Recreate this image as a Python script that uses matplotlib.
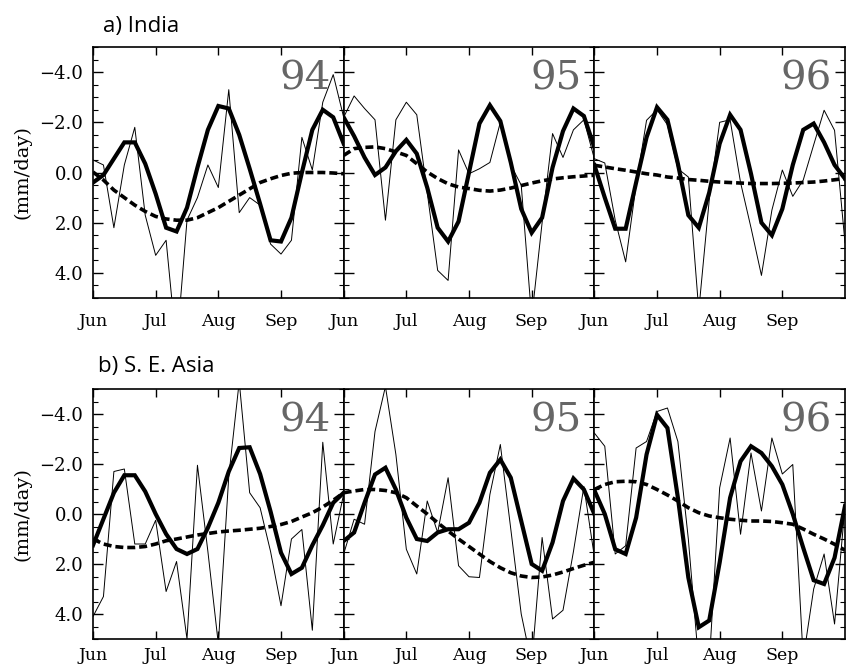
import numpy as np
import matplotlib
matplotlib.use("Agg")
import matplotlib.pyplot as plt
from matplotlib.ticker import FixedLocator, MultipleLocator

# pentads from 1 Jun (25 points per summer)
pentad = np.arange(25)
month_ticks = [0, 6, 12, 18]
month_labels = ['Jun', 'Jul', 'Aug', 'Sep']
ytick_vals = [-4, -2, 0, 2, 4]
ytick_labels = ['\u22124.0', '\u22122.0', '0.0', '2.0', '4.0']
years = ['94', '95', '96']

# a) India : raw anomaly (thin), filtered (thick), seasonal cycle (dashed)
india_raw_94 = [-0.5, -0.3, 2.2, -0.3, -1.8, 1.7, 3.3, 2.7, 7.0, 1.9, 1.0, -0.3, 0.6,
                -3.3, 1.6, 1.0, 1.3, 2.85, 3.25, 2.7, -1.4, -0.1, -2.8, -3.9, -2.2]
india_filt_94 = [0.4, 0.1, -0.55, -1.2, -1.2, -0.35, 0.85, 2.2, 2.35, 1.4, -0.2, -1.7, -2.65,
                 -2.55, -1.5, -0.15, 1.25, 2.7, 2.75, 1.8, 0.0, -1.7, -2.5, -2.2, -1.15]
india_clim_94 = [-0.02, 0.3, 0.7, 1.0, 1.3, 1.55, 1.75, 1.85, 1.9, 1.9, 1.8, 1.6, 1.4,
                 1.15, 0.9, 0.65, 0.4, 0.25, 0.12, 0.03, 0.0, 0.0, 0.0, 0.02, 0.05]

india_raw_95 = [-2.2, -3.05, -2.55, -2.1, 1.9, -2.1, -2.8, -2.3, 0.8, 3.9, 4.3, -0.9, 0.05,
                -0.15, -0.4, -2.0, -0.3, 0.5, 5.8, 2.0, -1.55, -0.6, -1.7, -2.1, -0.55]
india_filt_95 = [-2.2, -1.45, -0.6, 0.1, -0.2, -0.85, -1.3, -0.75, 0.6, 2.2, 2.75, 1.95, 0.0,
                 -1.95, -2.68, -2.05, -0.4, 1.45, 2.4, 1.8, -0.2, -1.65, -2.55, -2.25, -1.0]
india_clim_95 = [-0.68, -0.95, -1.0, -1.02, -0.95, -0.82, -0.68, -0.35, -0.02, 0.24, 0.45, 0.58, 0.64,
                 0.71, 0.74, 0.7, 0.62, 0.52, 0.42, 0.33, 0.26, 0.21, 0.17, 0.14, 0.11]

india_raw_96 = [-0.55, -0.38, 1.9, 3.56, 0.5, -2.08, -2.5, -1.9, -0.15, 0.18, 5.5, 1.1, -2.0,
                -2.1, 0.4, 2.2, 4.1, 1.5, -0.1, 0.95, 0.3, -1.1, -2.48, -1.68, 2.8]
india_filt_96 = [-0.3, 1.0, 2.24, 2.24, 0.4, -1.4, -2.6, -2.1, -0.35, 1.7, 2.2, 0.8, -1.15,
                 -2.3, -1.7, 0.05, 2.0, 2.5, 1.45, -0.3, -1.7, -1.95, -1.2, -0.3, 0.25]
india_clim_96 = [-0.29, -0.22, -0.15, -0.09, -0.02, 0.05, 0.1, 0.18, 0.22, 0.28, 0.31, 0.35, 0.38,
                 0.4, 0.42, 0.44, 0.44, 0.44, 0.43, 0.42, 0.4, 0.38, 0.34, 0.29, 0.24]

# b) S. E. Asia
sea_raw_94 = [4.1, 3.3, -1.7, -1.8, 1.2, 1.2, 0.25, 3.1, 1.9, 5.0, -1.95, 1.5, 5.2,
              -1.5, -5.3, -0.85, -0.25, 1.5, 3.67, 1.0, 0.62, 4.65, -2.87, 1.2, -0.8]
sea_filt_94 = [1.25, 0.2, -0.85, -1.55, -1.55, -0.9, 0.0, 0.8, 1.4, 1.6, 1.4, 0.55, -0.45,
               -1.7, -2.64, -2.67, -1.6, -0.1, 1.55, 2.4, 2.15, 1.25, 0.45, -0.45, -0.85]
sea_clim_94 = [1.0, 1.2, 1.3, 1.34, 1.34, 1.3, 1.2, 1.07, 1.0, 0.92, 0.84, 0.78, 0.72,
               0.68, 0.65, 0.61, 0.57, 0.5, 0.42, 0.3, 0.12, -0.05, -0.28, -0.55, -0.85]

sea_raw_95 = [1.6, 0.21, 0.41, -3.3, -5.1, -2.38, 1.41, 2.4, -0.52, 0.74, -1.45, 2.07, 2.51,
              2.54, -0.78, -2.78, 0.6, 4.0, 6.0, 0.94, 4.2, 3.85, 1.5, -1.1, 1.7]
sea_filt_95 = [1.08, 0.74, -0.45, -1.58, -1.85, -0.98, 0.15, 1.0, 1.08, 0.74, 0.61, 0.61, 0.35,
               -0.45, -1.65, -2.18, -1.45, 0.28, 2.0, 2.27, 1.14, -0.52, -1.42, -0.98, 0.0]
sea_clim_95 = [-0.85, -0.92, -0.98, -0.98, -0.94, -0.85, -0.65, -0.32, 0.0, 0.35, 0.68, 1.0, 1.3,
               1.6, 1.9, 2.15, 2.35, 2.48, 2.54, 2.52, 2.44, 2.32, 2.18, 2.05, 1.93]

sea_raw_96 = [-3.24, -2.71, 1.6, 1.27, -2.64, -2.9, -4.1, -4.24, -2.9, 1.0, 6.0, 6.0, -1.05,
              -3.04, 0.81, -2.44, -0.12, -3.04, -1.6, -1.98, 5.8, 3.0, 1.6, 4.4, -0.3]
sea_filt_96 = [-0.95, 0.0, 1.41, 1.6, 0.15, -2.38, -3.97, -3.44, -0.65, 2.54, 4.53, 4.26, 1.94,
               -0.65, -2.11, -2.71, -2.44, -1.91, -1.18, 0.0, 1.35, 2.65, 2.8, 1.75, -0.32]
sea_clim_96 = [-0.98, -1.18, -1.29, -1.31, -1.29, -1.18, -0.98, -0.76, -0.52, -0.25, -0.05, 0.08, 0.15,
               0.21, 0.25, 0.28, 0.28, 0.3, 0.35, 0.41, 0.6, 0.81, 1.0, 1.21, 1.45]

rows = [
    ('a) India', [(india_raw_94, india_filt_94, india_clim_94),
                  (india_raw_95, india_filt_95, india_clim_95),
                  (india_raw_96, india_filt_96, india_clim_96)]),
    ('b) S. E. Asia', [(sea_raw_94, sea_filt_94, sea_clim_94),
                       (sea_raw_95, sea_filt_95, sea_clim_95),
                       (sea_raw_96, sea_filt_96, sea_clim_96)]),
]

serif = 'DejaVu Serif'
W, H = 850, 669
fig = plt.figure(figsize=(W / 100, H / 100), dpi=100)

# pixel layout (top, bottom of each row, left/right of panels)
row_px = [(47, 298), (389, 639)]
title_px = [(103, 32), (98, 372)]
xlab_pad = [11, 6]
left_px, right_px = 93, 845
pw = (right_px - left_px) / 3

for r, (title, panels) in enumerate(rows):
    top, bot = row_px[r]
    for i, (raw, filt, clim) in enumerate(panels):
        ax = fig.add_axes([(left_px + i * pw) / W, 1 - bot / H, pw / W, (bot - top) / H])
        ax.plot(pentad, raw, color='black', lw=0.7)
        ax.plot(pentad, filt, color='black', lw=3.0, solid_joinstyle='miter')
        ax.plot(pentad, clim, color='black', lw=2.6, dashes=[2.2, 1.1])
        ax.set_xlim(0, 24)
        ax.set_ylim(5, -5)

        ax.xaxis.set_major_locator(FixedLocator(month_ticks))
        ax.set_xticklabels(month_labels, fontfamily=serif, fontsize=12.5)
        ax.yaxis.set_major_locator(FixedLocator(ytick_vals))
        ax.yaxis.set_minor_locator(MultipleLocator(0.5))
        if i == 0:
            ax.set_yticklabels(ytick_labels, fontfamily=serif, fontsize=13)
        else:
            ax.set_yticklabels([])
        ax.tick_params(axis='both', which='both', direction='in', top=True, right=True)
        ax.tick_params(axis='x', which='major', length=5.5, width=1.0, pad=xlab_pad[r])
        ax.tick_params(axis='y', which='major', length=7, width=1.0, pad=7)
        ax.tick_params(axis='y', which='minor', length=3.5, width=0.8)
        for sp in ax.spines.values():
            sp.set_linewidth(1.2)

        ax.text(1 - 13 / pw, 1 - 43 / (bot - top), years[i], transform=ax.transAxes,
                ha='right', va='baseline', fontsize=29, family=serif, color='0.4')

    fig.text(22 / W, 1 - (top + bot) / 2 / H, '(mm/day)', rotation=90, ha='center',
             va='center', fontsize=14, family=serif)
    tx, ty = title_px[r]
    fig.text(tx / W, 1 - ty / H, title, ha='left', va='baseline', fontsize=16,
             family='Open Sans')

fig.savefig('out.png', dpi=100)
